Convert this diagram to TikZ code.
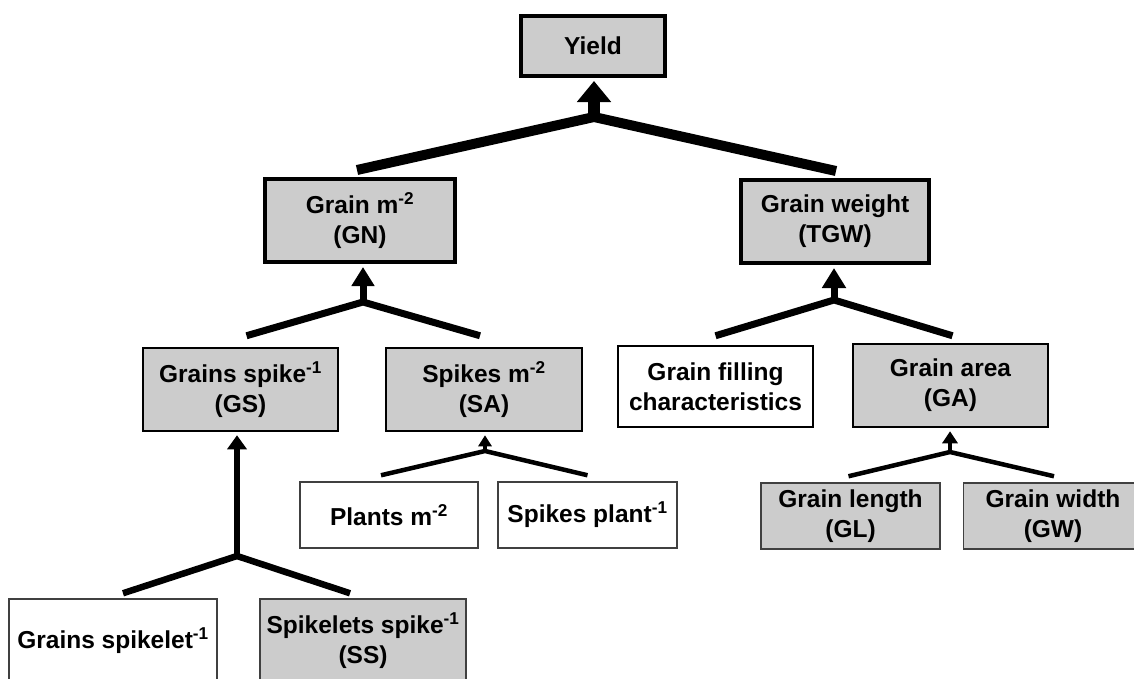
\documentclass[tikz,border=0pt]{standalone}
\usepackage{fontspec}
\setmainfont{Liberation Sans}
\usepackage{tikz}
\usetikzlibrary{arrows.meta,positioning,calc}
\definecolor{boxgray}{RGB}{204,204,204}
\tikzstyle{trait}=[draw,align=center,inner sep=0pt,font=\bfseries\fontsize{24.5}{30}\selectfont]
\tikzstyle{topbox}=[trait,line width=4pt,fill=boxgray]
\tikzstyle{midbox}=[trait,line width=2.5pt]
\tikzstyle{lowbox}=[trait,draw=black!75,line width=1.5pt]
\tikzstyle{grayfill}=[fill=boxgray]

\begin{document}
\begin{tikzpicture}[x=1pt,y=1pt,
  fork/.style={line width=#1},
  rise/.style n args={3}{line width=#1,-{Triangle[width=#2,length=#3]},shorten >=3pt}]
\useasboundingbox (0,0) rectangle (1134,-678);
\node [topbox,minimum width=144,minimum height=60] (Y) at (593,-46) {Yield};
\node [topbox,minimum width=190,minimum height=83] (GN) at (360,-220.5) {Grain m\textsuperscript{-2}\\(GN)};
\node [topbox,minimum width=188,minimum height=83] (TGW) at (835,-221.5) {Grain weight\\(TGW)};
\node [midbox,grayfill,minimum width=195,minimum height=83] (GS) at (240.5,-389.5) {Grains spike\textsuperscript{-1}\\(GS)};
\node [midbox,grayfill,minimum width=196,minimum height=83] (SA) at (484,-389.5) {Spikes m\textsuperscript{-2}\\(SA)};
\node [midbox,minimum width=195,minimum height=81] (GF) at (715.5,-386.5) {Grain filling\\characteristics};
\node [midbox,grayfill,minimum width=195,minimum height=83] (GA) at (950.5,-385.5) {Grain area\\(GA)};
\node [lowbox,minimum width=178,minimum height=66] (PL) at (389,-515) {Plants m\textsuperscript{-2}};
\node [lowbox,minimum width=179,minimum height=66] (SP) at (587.5,-515) {Spikes plant\textsuperscript{-1}};
\node [lowbox,grayfill,minimum width=179,minimum height=66] (GL) at (850.5,-516) {Grain length\\(GL)};
\node [lowbox,grayfill,minimum width=179,minimum height=66] (GW) at (1053,-516) {Grain width\\(GW)};
\node [lowbox,minimum width=208,minimum height=84] (GSL) at (113,-641) {Grains spikelet\textsuperscript{-1}};
\node [lowbox,grayfill,minimum width=206,minimum height=84] (SS) at (363,-641) {Spikelets spike\textsuperscript{-1}\\(SS)};

\coordinate (jY) at (594,-117);
\coordinate (jGN) at (363,-302);
\coordinate (jTGW) at (834,-300);
\coordinate (jGS) at (237,-556);
\coordinate (jSA) at (485,-451);
\coordinate (jGA) at (950,-452);

\draw [fork=10] ($(GN.north)+(-3,7)$) -- (jY) -- ($(TGW.north)+(1,7)$);
\draw [rise={12}{33}{21}] (jY) -- (jY |- Y.south);
\draw [fork=7] ($(GS.north)+(6,11)$) -- (jGN) -- ($(SA.north)+(-4,11)$);
\draw [rise={7}{22}{19}] (jGN) -- (jGN |- GN.south);
\draw [fork=7] ($(GF.north)+(0,9)$) -- (jTGW) -- ($(GA.north)+(2,7)$);
\draw [rise={7}{23}{20}] (jTGW) -- (jTGW |- TGW.south);
\draw [fork=6.5] ($(GSL.north)+(10,5)$) -- (jGS) -- ($(SS.north)+(-13,5)$);
\draw [rise={6}{19}{14}] (jGS) -- (jGS |- GS.south);
\draw [fork=4.5] ($(PL.north)+(-8,6)$) -- (jSA) -- ($(SP.north)+(0,6)$);
\draw [rise={4.5}{13}{11}] (jSA) -- (jSA |- SA.south);
\draw [fork=4.5] ($(GL.north)+(-2,6)$) -- (jGA) -- ($(GW.north)+(1,6)$);
\draw [rise={4.5}{15}{12}] (jGA) -- (jGA |- GA.south);
\end{tikzpicture}
\end{document}
